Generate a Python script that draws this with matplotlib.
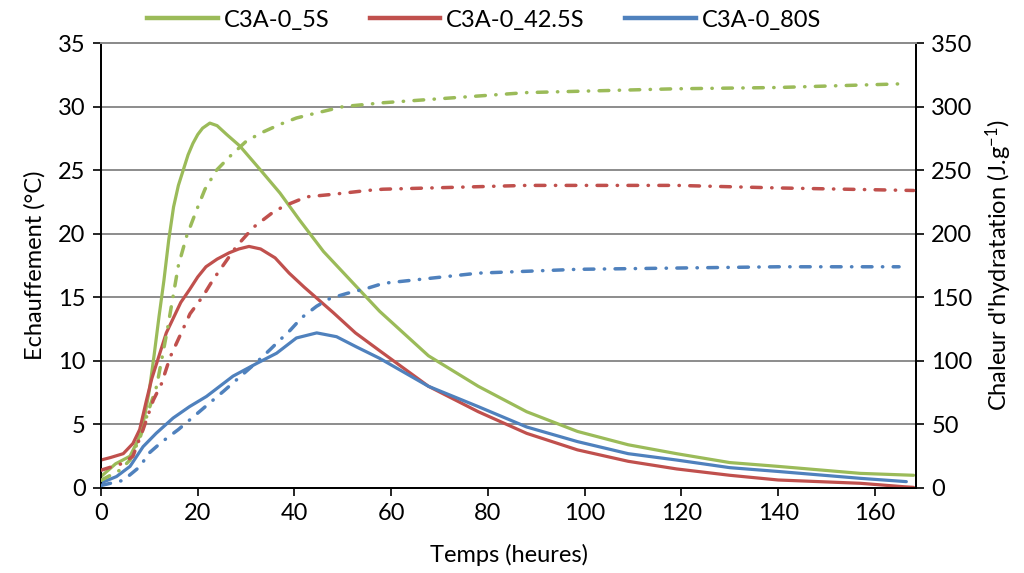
import matplotlib
matplotlib.use("Agg")
import matplotlib.pyplot as plt
from matplotlib.lines import Line2D

plt.rcParams['font.family'] = ['Lato', 'DejaVu Sans']
plt.rcParams['mathtext.fontset'] = 'custom'
plt.rcParams['mathtext.rm'] = 'Lato'

# echauffement (°C) - traits pleins
t_5s = [0, 3, 6, 7.7, 9, 10, 11, 12, 13, 14, 15, 16, 17, 18, 19, 20, 21, 22.5, 24, 26,
        28.7, 33, 37, 41, 46, 52.9, 57.6, 67.7, 78, 88, 98.5, 109, 119, 130, 140, 157, 168]
T_5s = [0.9, 1.9, 2.5, 3.8, 5.6, 7.7, 10.5, 13.5, 16.3, 19.5, 22.1, 23.8, 25.0, 26.2, 27.1,
        27.8, 28.3, 28.7, 28.5, 27.8, 26.9, 25.0, 23.2, 21.1, 18.6, 15.8, 13.9, 10.4, 8.0,
        6.0, 4.45, 3.4, 2.7, 2.0, 1.7, 1.15, 1.0]

t_42s = [0, 2, 4.6, 6.6, 8, 9.4, 10.5, 12, 13.5, 15, 16.5, 18.3, 20, 21.7, 24, 26.5, 28.5,
         30.6, 33, 36, 38.9, 42, 45, 48, 52.6, 57.6, 67.7, 78, 88, 98.5, 109, 119, 130,
         140, 157, 166, 168]
T_42s = [2.2, 2.4, 2.7, 3.5, 4.6, 6.9, 8.6, 10.4, 12.2, 13.4, 14.6, 15.6, 16.6, 17.4, 18.0,
         18.5, 18.8, 19.0, 18.8, 18.1, 16.9, 15.8, 14.8, 13.8, 12.2, 10.8, 8.0, 6.0, 4.3,
         3.0, 2.1, 1.5, 1.0, 0.63, 0.37, 0.1, 0.05]

t_80s = [0, 3.2, 6, 8.7, 11.4, 14.9, 18.3, 21.8, 27.3, 32.2, 36.3, 40.4, 44.6, 48.7, 52.8,
         57.6, 67.7, 78, 88, 98.5, 109, 119, 130, 140, 157, 166.5]
T_80s = [0.4, 0.9, 1.7, 3.25, 4.3, 5.5, 6.4, 7.2, 8.8, 9.8, 10.6, 11.8, 12.2, 11.9, 11.1,
         10.2, 8.0, 6.4, 4.8, 3.65, 2.7, 2.2, 1.6, 1.3, 0.76, 0.5]

# chaleur d'hydratation (J/g) - traits mixtes
tq_5s = [0, 3.9, 6, 8.1, 10.1, 11.5, 13.6, 16, 17.7, 19.8, 21.5, 23.9, 26.7, 30.1, 33.5,
         37, 40.4, 44.6, 50.1, 58.3, 88, 119, 140, 166.5]
Q_5s = [6, 14, 22, 40, 64, 80, 122, 175, 198, 219, 235, 250, 261, 273, 280, 286, 291, 295,
        300, 303, 311, 314, 315, 318]

tq_42s = [0, 4.6, 6.6, 8.7, 10.8, 12.5, 14.3, 18.4, 21.1, 23.2, 28, 31.5, 35.6, 38, 42.5,
          48, 55, 58.3, 88, 119, 140, 168]
Q_42s = [14, 19.5, 25, 46, 69, 82, 103, 137, 151, 164, 190, 205, 217, 222, 229, 231, 234,
         235, 238, 238, 236, 234]

tq_80s = [0, 4.6, 8.1, 9.8, 12.5, 16, 19.1, 22.5, 25.3, 32.2, 35, 37.7, 39.1, 41.5, 44.6,
          47.3, 50.8, 55, 58.4, 78, 98.5, 119, 140, 165]
Q_80s = [2, 6, 17, 27, 36, 46, 56, 67, 76, 99, 109, 119, 124, 134, 143, 149, 153, 157, 161,
         169, 172, 173, 174, 174]

noms = ["C3A-0_5S", "C3A-0_42.5S", "C3A-0_80S"]
couleurs = ["#9BBB59", "#C0504D", "#4F81BD"]

fs = 17

fig = plt.figure(figsize=(10.24, 5.73), dpi=100)
ax = fig.add_axes([101 / 1024, 1 - 488 / 573, 815 / 1024, 445 / 573])
ax2 = ax.twinx()

for t, T, c in zip([t_5s, t_42s, t_80s], [T_5s, T_42s, T_80s], couleurs):
    ax.plot(t, T, color=c, lw=2.3, solid_capstyle="round", zorder=3)

for t, Q, c in zip([tq_5s, tq_42s, tq_80s], [Q_5s, Q_42s, Q_80s], couleurs):
    ax2.plot(t, Q, color=c, lw=2.5, linestyle=(0, (2.8, 3.0, 0.1, 3.0)),
             dash_capstyle="round", zorder=3)

ax.set_xlim(0, 168.5)
ax.set_ylim(0, 35)
ax2.set_ylim(0, 350)
ax.set_xticks(range(0, 161, 20))
ax.set_yticks(range(0, 36, 5))
ax2.set_yticks(range(0, 351, 50))

ax.yaxis.grid(True, color="#8c8c8c", lw=1.4)
ax.set_axisbelow(True)

for a in (ax, ax2):
    a.tick_params(direction="out", length=6, width=1.2, labelsize=fs, colors="black", pad=5)
    a.spines["top"].set_color("#8c8c8c")
    a.spines["top"].set_linewidth(1.4)
    for s in ("left", "right", "bottom"):
        a.spines[s].set_linewidth(1.3)

ax.set_xlabel("Temps (heures)", fontsize=fs, labelpad=14)
ax.set_ylabel("Echauffement (°C)", fontsize=fs, labelpad=9)
ax2.set_ylabel(r"Chaleur d'hydratation (J.g$\mathregular{^{-1}}$)", fontsize=fs, labelpad=8)

handles = [Line2D([], [], color=c, lw=3.2) for c in couleurs]
fig.legend(handles, noms, loc="center", bbox_to_anchor=(484 / 1024, 1 - 20 / 573),
           ncol=3, frameon=False, fontsize=fs, handlelength=3.0, handletextpad=0.25,
           columnspacing=1.7)

fig.savefig("out.png", dpi=100)
